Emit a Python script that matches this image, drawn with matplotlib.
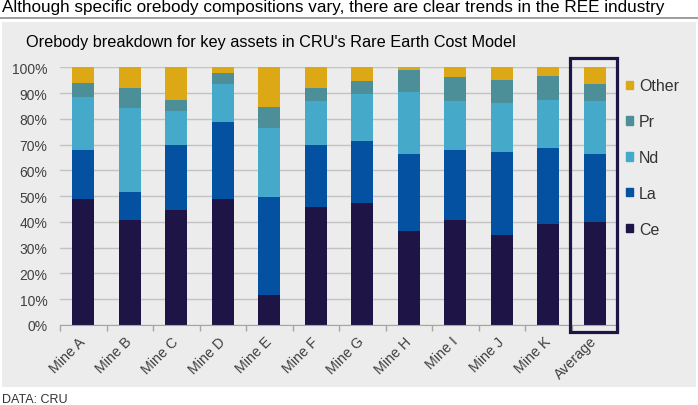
import matplotlib.pyplot as plt
import numpy as np
from matplotlib.patches import Rectangle, Patch
from matplotlib.lines import Line2D

plt.rcParams["font.family"] = ["Liberation Sans", "DejaVu Sans"]

# Orebody shares (%)
mines = ["Mine A", "Mine B", "Mine C", "Mine D", "Mine E", "Mine F",
         "Mine G", "Mine H", "Mine I", "Mine J", "Mine K", "Average"]
ce = [48.8, 40.6, 44.5, 48.8, 11.8, 45.9, 47.5, 36.6, 40.9, 34.9, 39.2, 39.8]
la = [19.1, 11.0, 25.2, 30.1, 38.0, 23.8, 24.0, 29.8, 27.0, 32.1, 29.4, 26.6]
nd = [20.6, 32.5, 13.5, 14.6, 26.7, 17.2, 18.1, 24.2, 19.0, 19.0, 18.9, 20.4]
pr = [5.4, 7.7, 4.3, 4.3, 8.0, 5.2, 5.2, 8.5, 9.2, 9.2, 9.1, 6.7]
other = [100 - a - b - c - d for a, b, c, d in zip(ce, la, nd, pr)]

series = [("Ce", ce, "#1f1446"), ("La", la, "#0351a0"),
          ("Nd", nd, "#45a9c9"), ("Pr", pr, "#4d8f99"),
          ("Other", other, "#dca816")]

fig = plt.figure(figsize=(6.98, 4.06), dpi=100)
fig.patch.set_facecolor("white")

# grey panel behind the chart
fig.add_artist(Rectangle((2 / 698, 18 / 406), 694 / 698, 365 / 406,
                         transform=fig.transFigure, facecolor="#ececec",
                         edgecolor="none", zorder=-10))
fig.add_artist(Line2D([0, 1], [1 - 18.5 / 406] * 2, transform=fig.transFigure,
                      color="#8c8c8c", lw=1.2))

fig.text(2 / 698, 1 - 12 / 406,
         "Although specific orebody compositions vary, there are clear trends in the REE industry",
         fontsize=12.3, va="baseline", ha="left", color="black")
fig.text(26 / 698, 1 - 46.7 / 406,
         "Orebody breakdown for key assets in CRU's Rare Earth Cost Model",
         fontsize=11.7, va="baseline", ha="left", color="black")
fig.text(2 / 698, 3 / 406, "DATA: CRU", fontsize=9, va="baseline", ha="left",
         color="#333333")

ax = fig.add_axes([60 / 698, 80 / 406, 558 / 698, 257.7 / 406])
ax.set_facecolor("none")

x = np.arange(len(mines))
bottom = np.zeros(len(mines))
for name, vals, col in series:
    ax.bar(x, vals, 0.48, bottom=bottom, color=col, label=name, zorder=3)
    bottom += np.array(vals)

ax.set_xlim(-0.5, len(mines) - 0.5)
ax.set_ylim(0, 100)
ax.set_yticks(np.arange(0, 101, 10))
ax.set_yticklabels([f"{v}%" for v in range(0, 101, 10)])
ax.yaxis.grid(True, color="#c3c3c3", lw=1, zorder=0)
ax.tick_params(axis="y", length=0, pad=9, labelsize=10, labelcolor="#404040")

ax.set_xticks(x)
ax.set_xticklabels(mines, rotation=45, ha="right", rotation_mode="anchor",
                   va="center", fontsize=10.3, color="#404040")
ax.set_xticks(np.arange(-0.5, len(mines), 1), minor=True)
ax.tick_params(axis="x", which="major", length=0, pad=10)
ax.tick_params(axis="x", which="minor", length=4, color="#a6a6a6", width=1)

for s in ["left", "right", "top"]:
    ax.spines[s].set_visible(False)
ax.spines["bottom"].set_color("#a6a6a6")
ax.spines["bottom"].set_zorder(4)

# highlight box around the average bar
avg = len(mines) - 1
ax.add_patch(Rectangle((avg - 0.53, -2.7), 1.01, 106.3, fill=False,
                       edgecolor="#1f1446", lw=2.3, clip_on=False, zorder=5))

handles = [Patch(color=col) for _, _, col in series][::-1]
labels = [name for name, _, _ in series][::-1]
fig.legend(handles, labels, loc="upper left",
           bbox_to_anchor=(626 / 698, 1 - 79.5 / 406), frameon=False,
           fontsize=11.5, handlelength=0.45, handleheight=0.45,
           handletextpad=0.35, labelspacing=1.3, borderpad=0,
           borderaxespad=0, labelcolor="#333333")

fig.savefig("out.png", dpi=100)
